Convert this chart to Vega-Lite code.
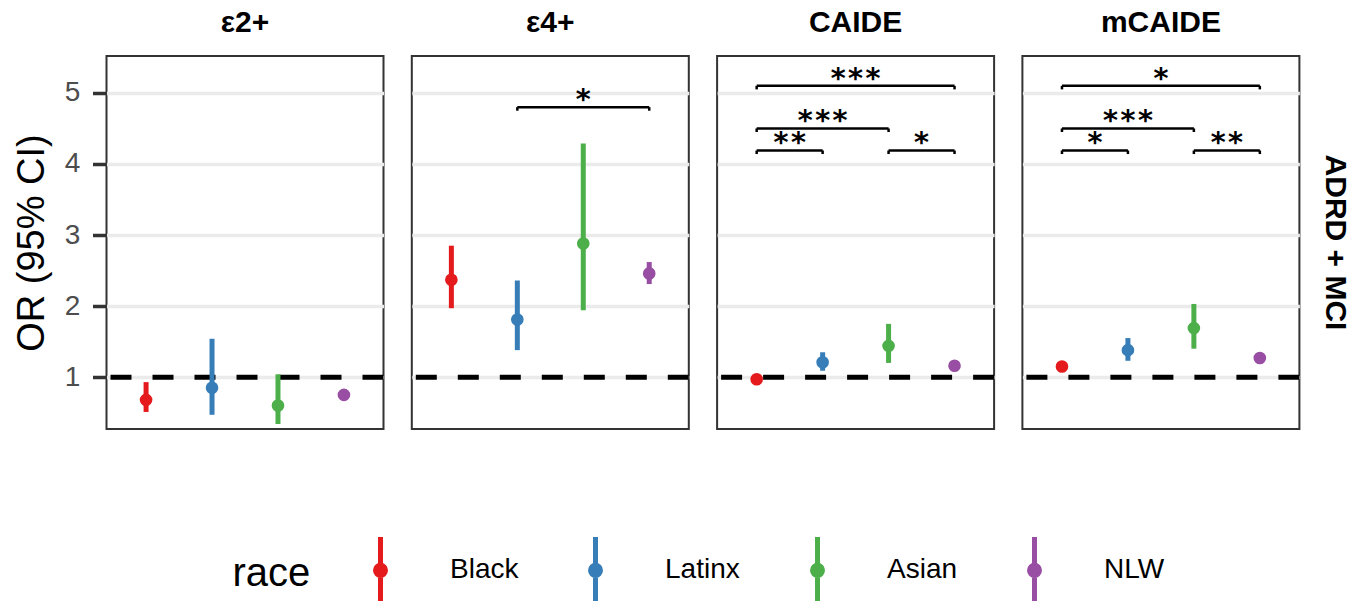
{
  "$schema": "https://vega.github.io/schema/vega-lite/v6.json",
  "padding": {"left": 12.5, "top": 8, "right": 5, "bottom": 5},
  "bounds": "flush",
  "data": {"values": [
    {"kind": "ref", "test": "ε2+", "outcome": "ADRD + MCI", "ref": 1},
    {"kind": "ref", "test": "ε4+", "outcome": "ADRD + MCI", "ref": 1},
    {"kind": "ref", "test": "CAIDE", "outcome": "ADRD + MCI", "ref": 1},
    {"kind": "ref", "test": "mCAIDE", "outcome": "ADRD + MCI", "ref": 1},

    {"kind": "est", "test": "ε2+", "outcome": "ADRD + MCI", "race": "Black", "pos": 1, "or": 0.68, "lo": 0.51, "hi": 0.93},
    {"kind": "est", "test": "ε2+", "outcome": "ADRD + MCI", "race": "Latinx", "pos": 2, "or": 0.85, "lo": 0.47, "hi": 1.54},
    {"kind": "est", "test": "ε2+", "outcome": "ADRD + MCI", "race": "Asian", "pos": 3, "or": 0.60, "lo": 0.34, "hi": 1.04},
    {"kind": "est", "test": "ε2+", "outcome": "ADRD + MCI", "race": "NLW", "pos": 4, "or": 0.75, "lo": 0.72, "hi": 0.78},

    {"kind": "est", "test": "ε4+", "outcome": "ADRD + MCI", "race": "Black", "pos": 1, "or": 2.37, "lo": 1.97, "hi": 2.85},
    {"kind": "est", "test": "ε4+", "outcome": "ADRD + MCI", "race": "Latinx", "pos": 2, "or": 1.81, "lo": 1.38, "hi": 2.36},
    {"kind": "est", "test": "ε4+", "outcome": "ADRD + MCI", "race": "Asian", "pos": 3, "or": 2.88, "lo": 1.94, "hi": 4.29},
    {"kind": "est", "test": "ε4+", "outcome": "ADRD + MCI", "race": "NLW", "pos": 4, "or": 2.46, "lo": 2.31, "hi": 2.62},

    {"kind": "est", "test": "CAIDE", "outcome": "ADRD + MCI", "race": "Black", "pos": 1, "or": 0.97, "lo": 0.95, "hi": 0.99},
    {"kind": "est", "test": "CAIDE", "outcome": "ADRD + MCI", "race": "Latinx", "pos": 2, "or": 1.21, "lo": 1.09, "hi": 1.35},
    {"kind": "est", "test": "CAIDE", "outcome": "ADRD + MCI", "race": "Asian", "pos": 3, "or": 1.44, "lo": 1.20, "hi": 1.75},
    {"kind": "est", "test": "CAIDE", "outcome": "ADRD + MCI", "race": "NLW", "pos": 4, "or": 1.16, "lo": 1.14, "hi": 1.18},

    {"kind": "est", "test": "mCAIDE", "outcome": "ADRD + MCI", "race": "Black", "pos": 1, "or": 1.15, "lo": 1.12, "hi": 1.18},
    {"kind": "est", "test": "mCAIDE", "outcome": "ADRD + MCI", "race": "Latinx", "pos": 2, "or": 1.38, "lo": 1.23, "hi": 1.55},
    {"kind": "est", "test": "mCAIDE", "outcome": "ADRD + MCI", "race": "Asian", "pos": 3, "or": 1.69, "lo": 1.40, "hi": 2.03},
    {"kind": "est", "test": "mCAIDE", "outcome": "ADRD + MCI", "race": "NLW", "pos": 4, "or": 1.27, "lo": 1.25, "hi": 1.29},

    {"kind": "br", "test": "ε4+", "outcome": "ADRD + MCI", "p1": 2, "p2": 4, "mid": 3, "y": 4.80, "tip": 4.75, "label": "*"},
    {"kind": "br", "test": "CAIDE", "outcome": "ADRD + MCI", "p1": 1, "p2": 4, "mid": 2.5, "y": 5.10, "tip": 5.05, "label": "***"},
    {"kind": "br", "test": "CAIDE", "outcome": "ADRD + MCI", "p1": 1, "p2": 3, "mid": 2, "y": 4.50, "tip": 4.45, "label": "***"},
    {"kind": "br", "test": "CAIDE", "outcome": "ADRD + MCI", "p1": 1, "p2": 2, "mid": 1.5, "y": 4.19, "tip": 4.14, "label": "**"},
    {"kind": "br", "test": "CAIDE", "outcome": "ADRD + MCI", "p1": 3, "p2": 4, "mid": 3.5, "y": 4.19, "tip": 4.14, "label": "*"},
    {"kind": "br", "test": "mCAIDE", "outcome": "ADRD + MCI", "p1": 1, "p2": 4, "mid": 2.5, "y": 5.10, "tip": 5.05, "label": "*"},
    {"kind": "br", "test": "mCAIDE", "outcome": "ADRD + MCI", "p1": 1, "p2": 3, "mid": 2, "y": 4.50, "tip": 4.45, "label": "***"},
    {"kind": "br", "test": "mCAIDE", "outcome": "ADRD + MCI", "p1": 1, "p2": 2, "mid": 1.5, "y": 4.19, "tip": 4.14, "label": "*"},
    {"kind": "br", "test": "mCAIDE", "outcome": "ADRD + MCI", "p1": 3, "p2": 4, "mid": 3.5, "y": 4.19, "tip": 4.14, "label": "**"}
  ]},
  "facet": {
    "column": {
      "field": "test", "type": "nominal",
      "sort": ["ε2+", "ε4+", "CAIDE", "mCAIDE"],
      "header": {"title": null, "labelFontSize": 30, "labelFontWeight": "bold", "labelFont": "Liberation Sans", "labelColor": "black", "labelPadding": 18}
    },
    "row": {
      "field": "outcome", "type": "nominal",
      "header": {"title": null, "labelOrient": "right", "labelAngle": 90, "labelFontSize": 30, "labelFontWeight": "bold", "labelFont": "Liberation Sans", "labelColor": "black", "labelPadding": 20}
    }
  },
  "spacing": {"column": 28.3, "row": 0},
  "spec": {
    "width": 277,
    "height": 373,
    "layer": [
      {
        "transform": [{"filter": "datum.kind === 'ref'"}],
        "mark": {"type": "rule", "color": "black", "strokeWidth": 5, "strokeDash": [21, 21], "strokeCap": "butt"},
        "encoding": {
          "y": {"field": "ref", "type": "quantitative", "scale": {"domain": [0.27, 5.52], "nice": false, "zero": false}, "title": "OR (95% CI)", "axis": {"values": [1, 2, 3, 4, 5], "format": "d"}}
        }
      },
      {
        "transform": [{"filter": "datum.kind === 'est'"}],
        "mark": {"type": "rule", "strokeWidth": 5, "strokeCap": "butt"},
        "encoding": {
          "x": {"field": "pos", "type": "quantitative", "scale": {"domain": [0.4, 4.6], "nice": false, "zero": false}, "axis": null},
          "y": {"field": "lo", "type": "quantitative", "title": "OR (95% CI)"},
          "y2": {"field": "hi"},
          "color": {"field": "race", "type": "nominal", "scale": {"domain": ["Black", "Latinx", "Asian", "NLW"], "range": ["#E41A1C", "#377EB8", "#4DAF4A", "#984EA3"]}}
        }
      },
      {
        "transform": [{"filter": "datum.kind === 'est'"}],
        "mark": {"type": "point", "filled": true, "size": 160, "opacity": 1},
        "encoding": {
          "x": {"field": "pos", "type": "quantitative", "axis": null},
          "y": {"field": "or", "type": "quantitative", "title": "OR (95% CI)"},
          "color": {
            "field": "race", "type": "nominal",
            "legend": {
              "title": "race",
              "orient": "none",
              "legendX": 126,
              "legendY": 478,
              "direction": "horizontal",
              "titleOrient": "left",
              "titleFontSize": 40,
              "titleFontWeight": "normal",
              "titleColor": "black",
              "titleFont": "Liberation Sans",
              "titlePadding": 34,
              "labelFontSize": 28,
              "labelColor": "black",
              "labelFont": "Liberation Sans",
              "labelOffset": 33.5,
              "columnPadding": 41,
              "symbolType": "M0,-1L0,1M-0.15,0A0.15,0.15,0,1,1,0.15,0A0.15,0.15,0,1,1,-0.15,0Z",
              "symbolSize": 4436,
              "symbolStrokeWidth": 5,
              "encode": {
                "symbols": {"update": {"fill": {"scale": "color", "field": "value"}, "stroke": {"scale": "color", "field": "value"}, "opacity": {"value": 1}}},
                "labels": {"update": {"dy": {"value": 4}}}
              }
            }
          }
        }
      },
      {
        "transform": [{"filter": "datum.kind === 'br'"}],
        "mark": {"type": "rule", "color": "black", "strokeWidth": 2.5},
        "encoding": {
          "x": {"field": "p1", "type": "quantitative", "axis": null},
          "x2": {"field": "p2"},
          "y": {"field": "y", "type": "quantitative", "title": "OR (95% CI)"}
        }
      },
      {
        "transform": [{"filter": "datum.kind === 'br'"}],
        "mark": {"type": "rule", "color": "black", "strokeWidth": 2.5},
        "encoding": {
          "x": {"field": "p1", "type": "quantitative", "axis": null},
          "y": {"field": "y", "type": "quantitative", "title": "OR (95% CI)"},
          "y2": {"field": "tip"}
        }
      },
      {
        "transform": [{"filter": "datum.kind === 'br'"}],
        "mark": {"type": "rule", "color": "black", "strokeWidth": 2.5},
        "encoding": {
          "x": {"field": "p2", "type": "quantitative", "axis": null},
          "y": {"field": "y", "type": "quantitative", "title": "OR (95% CI)"},
          "y2": {"field": "tip"}
        }
      },
      {
        "transform": [{"filter": "datum.kind === 'br'"}],
        "mark": {"type": "text", "font": "DejaVu Sans Mono", "fontSize": 29, "fontWeight": "bold", "baseline": "alphabetic", "dy": 2, "color": "black"},
        "encoding": {
          "x": {"field": "mid", "type": "quantitative", "axis": null},
          "y": {"field": "y", "type": "quantitative", "title": "OR (95% CI)"},
          "text": {"field": "label"}
        }
      }
    ]
  },
  "config": {
    "font": "Liberation Sans",
    "view": {"stroke": "#333333", "strokeWidth": 2},
    "axisY": {
      "domain": false,
      "grid": true,
      "gridColor": "#EBEBEB",
      "gridWidth": 3.5,
      "tickColor": "#333333",
      "tickWidth": 3.5,
      "tickSize": 14,
      "labelFontSize": 28,
      "labelColor": "#4D4D4D",
      "labelPadding": 12.7,
      "titleFontSize": 38,
      "titleFontWeight": "normal",
      "titleColor": "black",
      "titlePadding": 13
    }
  }
}
